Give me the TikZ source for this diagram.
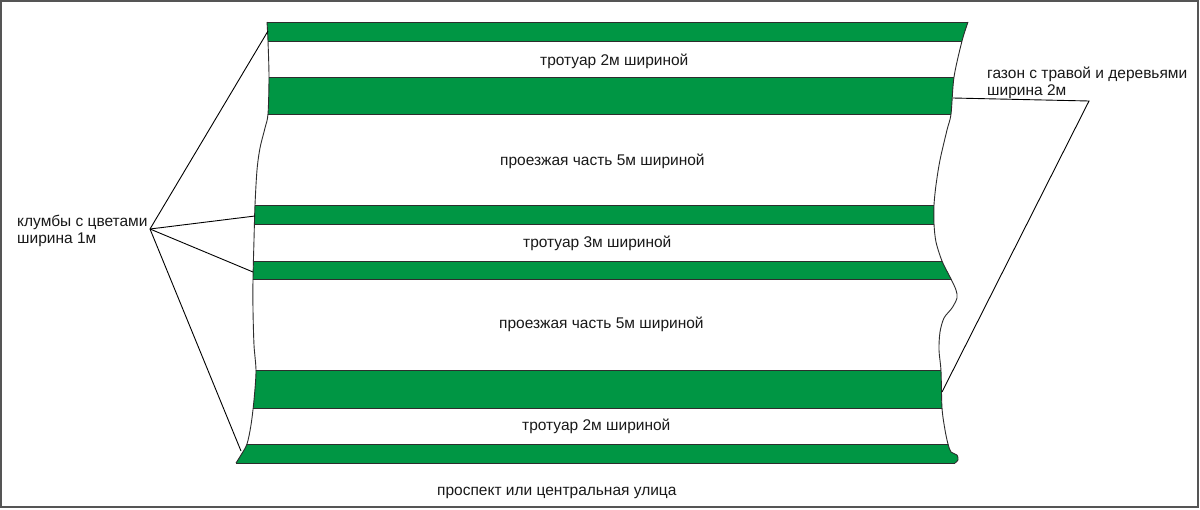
\documentclass[tikz,border=0pt]{standalone}
\usepackage{fontspec}
\setmainfont{Liberation Sans}
\definecolor{bandgreen}{RGB}{0,150,68}
\definecolor{edgegray}{RGB}{45,45,45}
\definecolor{framegray}{RGB}{85,85,85}
\definecolor{txtgray}{RGB}{25,25,25}
\tikzset{
  lbl/.style={anchor=base west, inner sep=0pt, text=txtgray, font=\fontsize{15.5}{17}\selectfont},
  lbltwo/.style={anchor=north west, inner sep=0pt, text=txtgray, align=left, font=\fontsize{15.5}{16.5}\selectfont},
  bandedge/.style={draw=edgegray, line width=0.7pt},
  leader/.style={draw=black, line width=0.9pt},
  outline/.style={draw=edgegray, line width=0.9pt}
}
\begin{document}
\begin{tikzpicture}[x=1pt,y=-1pt]
\useasboundingbox (0,0) rectangle (1200,509);
\fill[white] (0,0) rectangle (1200,509);
% road body
\begin{scope}
\clip (267,22) -- plot[smooth, tension=0.5] coordinates {(968,22) (962,41) (954,77) (951,114) (947,130) (940,160) (936,185) (934,205) (934,224) (936,242) (942,261) (951,279) (956,290) (957,298) (952,308) (944,318) (940,332) (939,350) (941,371) (942,408) (945,430) (948,444) (951,452) (957,455) (958,460) (955,463)} -- (236,463) -- plot[smooth, tension=0.5] coordinates {(236,463) (241,455) (247,444) (251,425) (254,400) (256,371) (254,345) (253,310) (253,279) (254,240) (255,205) (257,170) (260,148) (265,128) (268,114) (269,77) (268,41) (267,22)} -- cycle;
\foreach \ya/\yb in {22/41,77/114,205/224,261/279,370/408,444/463}{
  \fill[bandgreen] (200,\ya) rectangle (1000,\yb);
  \draw[bandedge] (200,\ya) -- (1000,\ya);
  \draw[bandedge] (200,\yb) -- (1000,\yb);
}
\end{scope}
\draw[outline] plot[smooth, tension=0.5] coordinates {(968,22) (962,41) (954,77) (951,114) (947,130) (940,160) (936,185) (934,205) (934,224) (936,242) (942,261) (951,279) (956,290) (957,298) (952,308) (944,318) (940,332) (939,350) (941,371) (942,408) (945,430) (948,444) (951,452) (957,455) (958,460) (955,463)};
\draw[outline] plot[smooth, tension=0.5] coordinates {(236,463) (241,455) (247,444) (251,425) (254,400) (256,371) (254,345) (253,310) (253,279) (254,240) (255,205) (257,170) (260,148) (265,128) (268,114) (269,77) (268,41) (267,22)};
\draw[edgegray, line width=0.7pt] (267,22) -- (968,22);
\draw[edgegray, line width=0.7pt] (236,463) -- (955,463);
% labels
\node[lbl] (t1) at (540,65) {тротуар 2м шириной};
\node[lbl] (r1) at (500,165) {проезжая часть 5м шириной};
\node[lbl] (t2) at (523,247) {тротуар 3м шириной};
\node[lbl] (r2) at (499,328) {проезжая часть 5м шириной};
\node[lbl] (t3) at (522,430) {тротуар 2м шириной};
\node[lbl] (st) at (437,495) {проспект или центральная улица};
\node[lbltwo] (kl) at (17,215) {клумбы с цветами\\ширина 1м};
\node[lbltwo] (gz) at (987,67) {газон с травой и деревьями\\ширина 2м};
% leader points
\coordinate (hub) at (150,229);
\coordinate (k1) at (268,31);
\coordinate (k2) at (255,216);
\coordinate (k3) at (253,272);
\coordinate (k4) at (241,451);
\coordinate (g0) at (953,98);
\coordinate (g1) at (1089,101);
\coordinate (g2) at (942,392);
\draw[leader] (hub) -- (k1);
\draw[leader] (hub) -- (k2);
\draw[leader] (hub) -- (k3);
\draw[leader] (hub) -- (k4);
\draw[leader] (g0) -- (g1) -- (g2);
% frame
\draw[framegray, line width=2pt] (1,1) rectangle (1198,507);
\end{tikzpicture}
\end{document}
